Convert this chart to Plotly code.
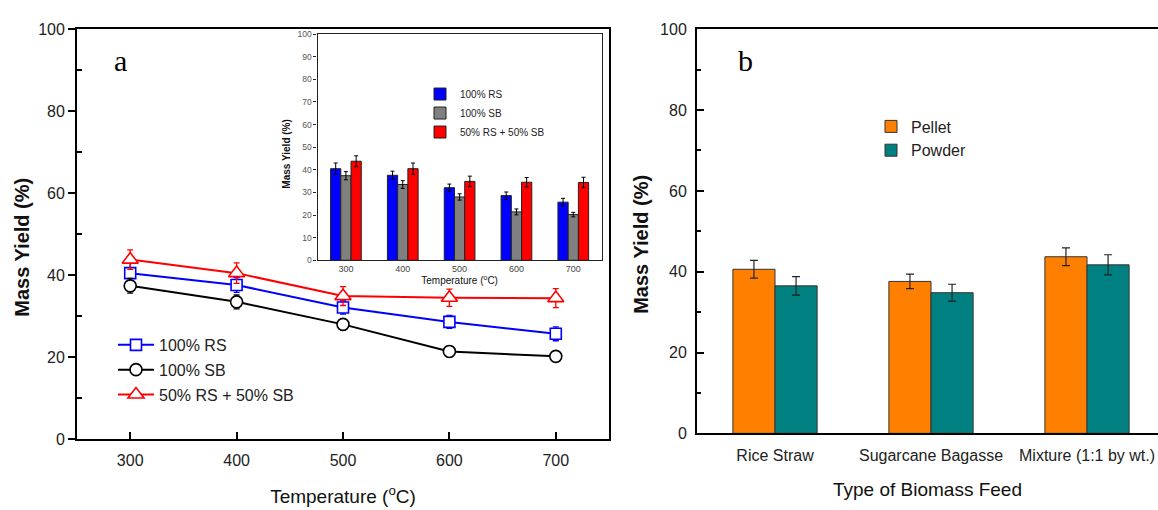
import plotly.graph_objects as go

# ---------------- data ----------------
temps = [300, 400, 500, 600, 700]
rs = [40.5, 37.6, 32.1, 28.6, 25.7]
rs_err = [2.5, 1.8, 1.6, 1.6, 1.7]
sb = [37.4, 33.5, 28.0, 21.4, 20.2]
sb_err = [1.8, 1.7, 1.4, 1.3, 1.0]
mix = [43.8, 40.5, 34.9, 34.5, 34.4]
mix_err = [2.4, 2.5, 2.3, 2.1, 2.3]

feeds = ["Rice Straw", "Sugarcane Bagasse", "Mixture (1:1 by wt.)"]
pellet = [40.6, 37.6, 43.7]
pellet_err = [2.2, 1.8, 2.2]
powder = [36.5, 34.8, 41.7]
powder_err = [2.3, 2.1, 2.5]

series_names = ["100% RS", "100% SB", "50% RS + 50% SB"]

W, H = 1158, 510
SANS = "Liberation Sans, Arial, sans-serif"
SERIF = "Liberation Serif, Times New Roman, serif"


def fx(p):
    return p / W


def fy(p):
    return 1 - p / H


fig = go.Figure()

# ---------- panel a: line chart ----------
line_specs = [
    (rs, rs_err, "#0000FF", "square", 11),
    (sb, sb_err, "#000000", "circle", 12),
    (mix, mix_err, "#FF0000", "triangle-up", 14),
]
for name, (vals, errs, col, sym, size) in zip(series_names, line_specs):
    fig.add_trace(go.Scatter(
        x=temps, y=vals, name=name, mode="lines+markers",
        xaxis="x", yaxis="y", legend="legend", legendgroup=name,
        line=dict(color=col, width=2),
        marker=dict(symbol=sym, size=size, color="white", line=dict(color=col, width=1.6)),
        error_y=dict(type="data", array=errs, color=col, thickness=1.3, width=3),
    ))

# ---------- inset bar chart ----------
inset_colors = ["#0000FF", "#808080", "#FF0000"]
for name, vals, errs, col in zip(series_names, [rs, sb, mix], [rs_err, sb_err, mix_err], inset_colors):
    fig.add_trace(go.Bar(
        x=temps, y=vals, name=name, xaxis="x3", yaxis="y3", legend="legend2",
        marker=dict(color=col, line=dict(color="#222222", width=1)),
        error_y=dict(type="data", array=errs, color="#000000", thickness=1, width=2),
    ))

# ---------- panel b ----------
for name, vals, errs, col in [("Pellet", pellet, pellet_err, "#FF8000"),
                              ("Powder", powder, powder_err, "#008080")]:
    fig.add_trace(go.Bar(
        x=feeds, y=vals, name=name, xaxis="x2", yaxis="y2", legend="legend3",
        marker=dict(color=col, line=dict(color="#333333", width=1)),
        error_y=dict(type="data", array=errs, color="#222222", thickness=1.2, width=4),
    ))

tickfont = dict(family=SANS, size=16, color="#222222")
ytitle_font = dict(family=SANS, size=20, color="#111111", weight="bold")
xtitle_font = dict(family=SANS, size=19, color="#111111")

fig.update_layout(
    width=W, height=H,
    margin=dict(l=0, r=0, t=0, b=0),
    paper_bgcolor="white", plot_bgcolor="white",
    barmode="group",
    bargap=0.46, bargroupgap=0,
    showlegend=True,
    xaxis=dict(
        domain=[fx(77), fx(609)], anchor="y", range=[250, 750],
        tickvals=temps, ticks="inside", ticklen=7, tickwidth=1.5, tickcolor="black",
        showline=True, linecolor="black", linewidth=1.8, mirror=True,
        showgrid=False, zeroline=False, tickfont=tickfont, ticklabelstandoff=6,
        title=dict(text="Temperature (<sup>o</sup>C)", font=xtitle_font, standoff=21),
    ),
    yaxis=dict(
        domain=[fy(446), fy(22)], anchor="x", range=[0, 100],
        tickvals=[0, 20, 40, 60, 80, 100], ticks="outside", ticklen=7, tickwidth=1.5, tickcolor="black",
        minor=dict(tickvals=[10, 30, 50, 70, 90], ticks="inside", ticklen=5, tickwidth=1.5, tickcolor="black"),
        showline=True, linecolor="black", linewidth=1.8, mirror=True,
        showgrid=False, zeroline=False, tickfont=tickfont,
    ),
    xaxis3=dict(
        domain=[fx(317.5), fx(601.7)], anchor="y3", range=[250, 750],
        tickvals=temps, ticks="", showline=True, linecolor="#222222", linewidth=1.2, mirror=True,
        showgrid=False, zeroline=False,
        tickfont=dict(family=SANS, size=9, color="#444444"),
        title=dict(text="Temperature (<sup>o</sup>C)", font=dict(family=SANS, size=10, color="#111111"), standoff=2),
    ),
    yaxis3=dict(
        domain=[fy(261), fy(27)], anchor="x3", range=[0, 100], dtick=10,
        ticks="outside", ticklen=3, tickcolor="#222222",
        showline=True, linecolor="#222222", linewidth=1.2, mirror=True,
        showgrid=False, zeroline=False,
        tickfont=dict(family=SANS, size=8.5, color="#555555"),
    ),
    xaxis2=dict(
        domain=[fx(697), 1.0], anchor="y2", range=[-0.5, 2.455], type="category",
        ticks="outside", ticklen=6, tickcolor="rgba(0,0,0,0)",
        showline=True, linecolor="black", linewidth=2, mirror=True,
        showgrid=False, zeroline=False, tickfont=tickfont,
        title=dict(text="Type of Biomass Feed", font=xtitle_font, standoff=20),
    ),
    yaxis2=dict(
        domain=[fy(440), fy(22)], anchor="x2", range=[0, 100],
        tickvals=[0, 20, 40, 60, 80, 100], ticks="inside", ticklen=7, tickwidth=1.5, tickcolor="black",
        minor=dict(tickvals=[10, 30, 50, 70, 90], ticks="inside", ticklen=4, tickwidth=1.5, tickcolor="black"),
        showline=True, linecolor="black", linewidth=2, mirror=False,
        showgrid=False, zeroline=False, tickfont=tickfont, ticklabelstandoff=5,
    ),
    legend=dict(
        x=fx(113), y=fy(331), xanchor="left", yanchor="top",
        bgcolor="rgba(0,0,0,0)", font=dict(family=SANS, size=16, color="#222222"),
        itemsizing="trace", itemwidth=36, tracegroupgap=1,
    ),
    legend2=dict(
        x=fx(420), y=fy(74), xanchor="left", yanchor="top",
        bgcolor="rgba(0,0,0,0)", font=dict(family=SANS, size=10, color="#222222"),
        tracegroupgap=0,
    ),
    legend3=dict(
        x=fx(871), y=fy(105), xanchor="left", yanchor="top",
        bgcolor="rgba(0,0,0,0)", font=dict(family=SANS, size=16, color="#222222"),
        tracegroupgap=0,
    ),
    annotations=[
        dict(text="a", xref="x", yref="y", x=290.6, y=92.5, showarrow=False,
             xanchor="center", yanchor="middle", font=dict(family=SERIF, size=30, color="black")),
        dict(text="b", xref="x2", yref="y2", x=-0.187, y=92.2, showarrow=False,
             xanchor="center", yanchor="middle", font=dict(family=SERIF, size=30, color="black")),
        dict(text="Mass Yield (%)", xref="paper", yref="paper", x=fx(22.5), y=fy(247.5),
             textangle=-90, showarrow=False, xanchor="center", yanchor="middle", font=ytitle_font),
        dict(text="Mass Yield (%)", xref="paper", yref="paper", x=fx(641), y=fy(245),
             textangle=-90, showarrow=False, xanchor="center", yanchor="middle", font=ytitle_font),
        dict(text="Mass Yield (%)", xref="paper", yref="paper", x=fx(287), y=fy(151.7),
             textangle=-90, showarrow=False, xanchor="center", yanchor="middle",
             font=dict(family=SANS, size=10, color="#111111", weight="bold")),
    ],
)

fig.write_html("out.html")
